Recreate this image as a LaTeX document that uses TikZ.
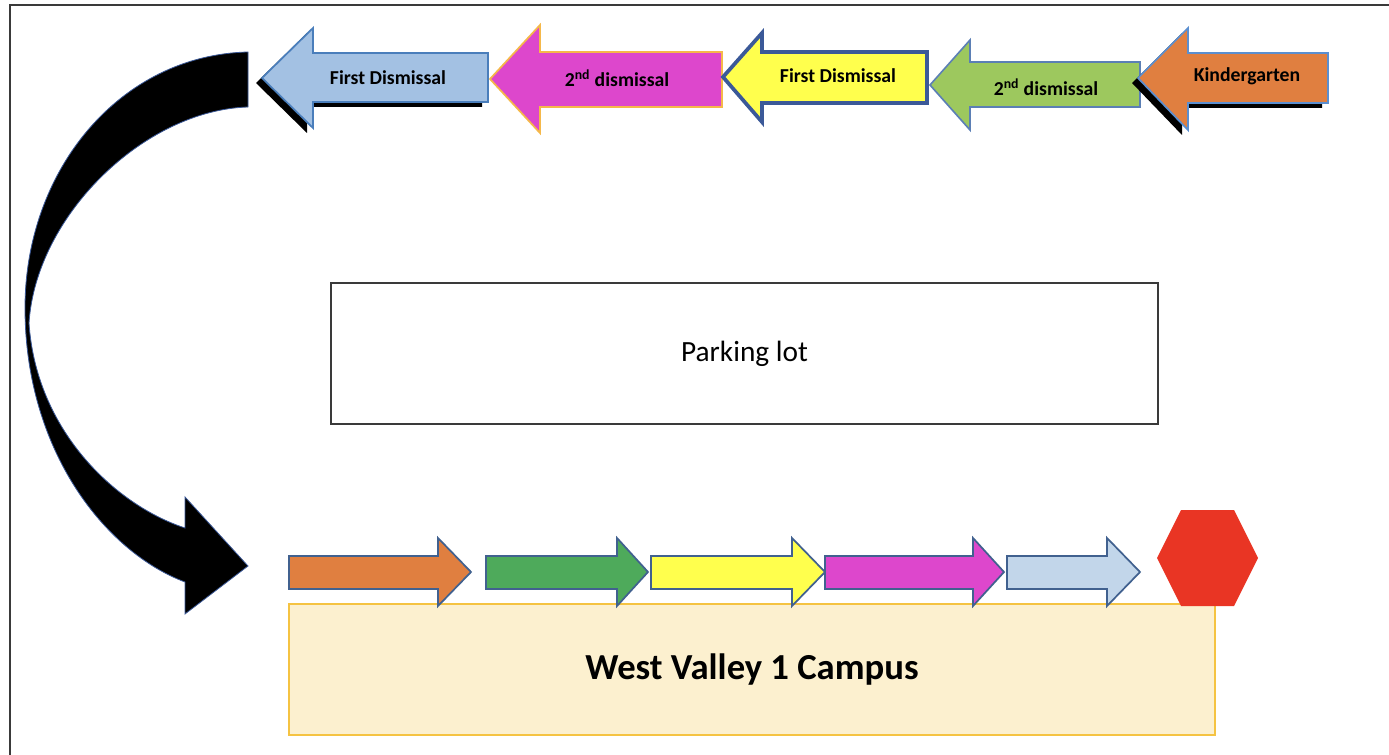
\documentclass[tikz,border=0pt]{standalone}
\usepackage{fontspec}
\setmainfont{Carlito}
\definecolor{tblue}{HTML}{A3C1E3}
\definecolor{tbluel}{HTML}{4A7EBB}
\definecolor{tmag}{HTML}{DD47CC}
\definecolor{tmagl}{HTML}{F5B84A}
\definecolor{tyel}{HTML}{FFFF4D}
\definecolor{tyell}{HTML}{3B5998}
\definecolor{tgreen}{HTML}{9DC85E}
\definecolor{tgreenl}{HTML}{5B7FB5}
\definecolor{torange}{HTML}{E07F40}
\definecolor{torangel}{HTML}{5B8FD0}
\definecolor{bline}{HTML}{41618F}
\definecolor{bgreen}{HTML}{4EAA5B}
\definecolor{bblue}{HTML}{C2D6EA}
\definecolor{campusfill}{HTML}{FCF0CF}
\definecolor{campusline}{HTML}{F5C342}
\definecolor{hexred}{HTML}{E93524}
\definecolor{framegray}{HTML}{3A3A3A}
% left-pointing block arrow: tipx, tipy, headbase x, head top, head bottom, body top, body bottom, tail x
\newcommand\myLarr[8]{(#1,#2) -- (#3,#4) -- (#3,#6) -- (#8,#6) -- (#8,#7) -- (#3,#7) -- (#3,#5) -- cycle}
% right-pointing block arrow on the bottom row: tail x, head base x, tip x
\newcommand\myRarr[3]{(#1,556) -- (#2,556) -- (#2,538) -- (#3,572) -- (#2,606) -- (#2,589) -- (#1,589) -- cycle}
\tikzset{
  toplabel/.style={font=\fontsize{14.8}{16}\selectfont\bfseries, text=black, inner sep=0pt},
  botarrow/.style={draw=bline, line width=1.3pt, line join=miter},
}
\begin{document}
\begin{tikzpicture}[x=0.75pt,y=-0.75pt]
\useasboundingbox (0,0) rectangle (1389,755);
% frame (cut by the page on right and bottom)
\draw[framegray, line width=1.6pt] (10,755) -- (10,5) -- (1389,5);

% ---- top row of arrows ----
% light blue with shadow
\fill[black, shift={(-6,5)}] \myLarr{262}{78}{313}{28}{128}{53}{102}{488};
\draw[fill=tblue, draw=tbluel, line width=1.3pt] \myLarr{262}{78}{313}{28}{128}{53}{102}{488};
\node[toplabel] (t1) at (388,78) {First Dismissal};
% magenta
\draw[fill=tmag, draw=tmagl, line width=1.3pt] \myLarr{490}{79}{540}{25}{133}{52}{107}{722};
\node[toplabel] (t2) at (617,78) {2\textsuperscript{nd} dismissal};
% yellow
\draw[fill=tyel, draw=tyell, line width=2.8pt, line join=miter] \myLarr{723}{77}{762}{33}{122}{52}{103}{927};
\node[toplabel] (t3) at (838,76) {First Dismissal};
% green
\draw[fill=tgreen, draw=tgreenl, line width=1.2pt] \myLarr{930}{85}{970}{40}{130}{62}{107}{1140};
\node[toplabel] (t4) at (1046,87) {2\textsuperscript{nd} dismissal};
% orange with shadow
\fill[black, shift={(-6,5)}] \myLarr{1138}{78}{1188}{28}{130}{53}{103}{1328};
\draw[fill=torange, draw=torangel, line width=1.3pt] \myLarr{1138}{78}{1188}{28}{130}{53}{103}{1328};
\node[toplabel] (t5) at (1247,76) {Kindergarten};

% ---- parking lot ----
\node[draw=framegray, line width=1.5pt, minimum width=827*0.75pt, minimum height=141*0.75pt,
      inner sep=0pt, font=\fontsize{22}{25}\selectfont] (parking) at (744.5,353.5) {Parking lot};

% ---- curved black arrow ----
\draw[fill=black, draw=tyell, line width=0.6pt]
  (248,52) .. controls (120,55) and (25,170) .. (25,308)
  .. controls (25,450) and (105,552) .. (185,582)
  -- (185,614) -- (248,566) -- (185,497) -- (185,528)
  .. controls (115,505) and (36,430) .. (29,323)
  .. controls (36,215) and (145,110) .. (248,107) -- cycle;

% ---- campus ----
\node[fill=campusfill, draw=campusline, line width=1.3pt, minimum width=926*0.75pt, minimum height=131*0.75pt,
      inner sep=0pt, font=\fontsize{27.5}{30}\selectfont\bfseries] (campus) at (752,669.5) {West Valley 1 Campus};

% ---- bottom row of arrows ----
\draw[botarrow, fill=torange] \myRarr{289}{438}{471};
\draw[botarrow, fill=bgreen] \myRarr{486}{617}{648};
\draw[botarrow, fill=tyel] \myRarr{651}{792}{825};
\draw[botarrow, fill=tmag] \myRarr{825}{973}{1004};
\draw[botarrow, fill=bblue] \myRarr{1007}{1107}{1140};

% stop sign hexagon
\fill[hexred] (1157,558) -- (1181,510) -- (1234,510) -- (1258,558) -- (1234,606) -- (1181,606) -- cycle;
\end{tikzpicture}
\end{document}
